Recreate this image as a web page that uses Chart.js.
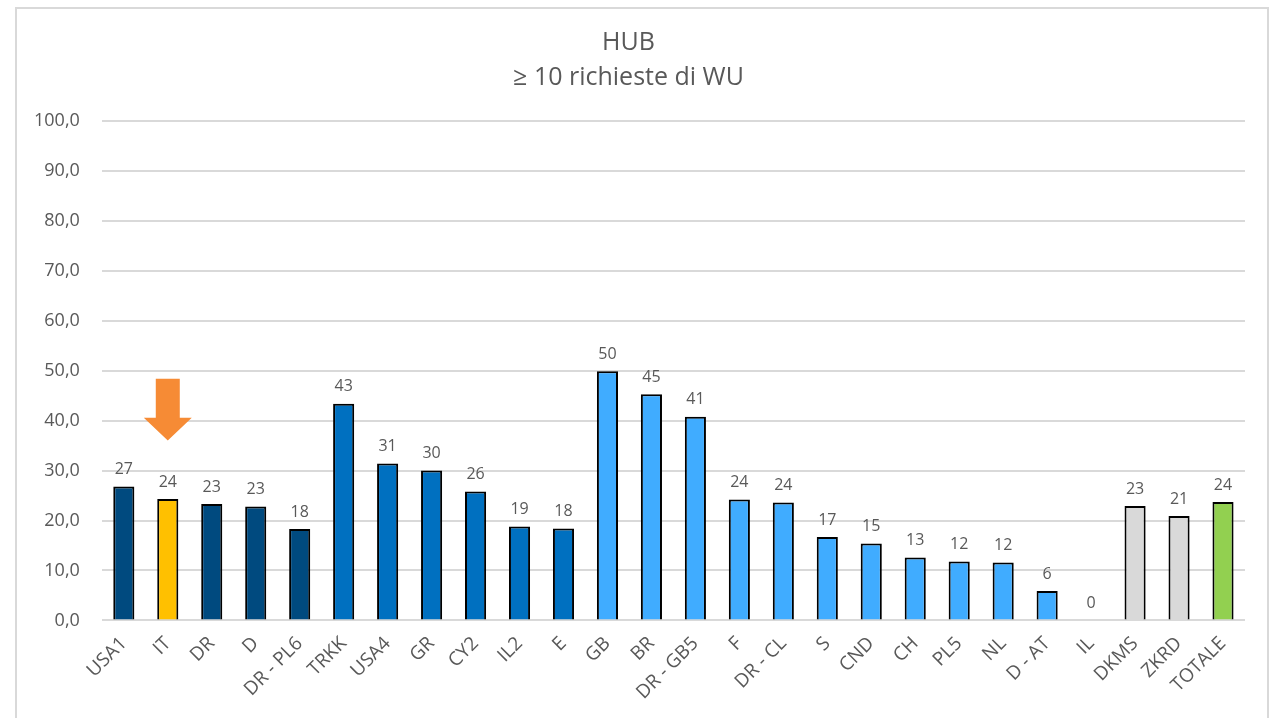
<!DOCTYPE html>
<html>
<head>
<meta charset="utf-8">
<script src="https://cdn.jsdelivr.net/npm/chart.js@4"></script>
<style>
  body { margin: 0; background: #ffffff; }
  #cornice {
    position: absolute; left: 15px; top: 7px;
    width: 1254px; height: 730px;
    border: 2px solid #d9d9d9; box-sizing: border-box;
  }
  #contenitore { position: absolute; left: 0; top: 0; width: 1273px; height: 718px; }
</style>
</head>
<body>
<div id="cornice"></div>
<div id="contenitore"><canvas id="grafico-hub"></canvas></div>
<script>
// dati
const categorie = ['USA1', 'IT', 'DR', 'D', 'DR - PL6', 'TRKK', 'USA4', 'GR', 'CY2', 'IL2', 'E',
    'GB', 'BR', 'DR - GB5', 'F', 'DR - CL', 'S', 'CND', 'CH', 'PL5', 'NL', 'D - AT', 'IL',
    'DKMS', 'ZKRD', 'TOTALE'];
const valori = [26.8, 24.3, 23.3, 22.8, 18.3, 43.4, 31.4, 30.0, 25.8, 18.8, 18.4,
    49.9, 45.3, 40.8, 24.2, 23.6, 16.7, 15.4, 12.6, 11.8, 11.6, 5.9, 0,
    22.9, 20.9, 23.7];
const gruppi = ['A', 'IT', 'A', 'A', 'A', 'B', 'B', 'B', 'B', 'B', 'B',
    'C', 'C', 'C', 'C', 'C', 'C', 'C', 'C', 'C', 'C', 'C', 'C',
    'D', 'D', 'T'];
const tickY = [0, 10, 20, 30, 40, 50, 60, 70, 80, 90, 100];

const coloriGruppo = {
    A: '#004a7f',
    IT: '#ffc000',
    B: '#0070c0',
    C: '#40acff',
    D: '#d9d9d9',
    T: '#92d050'
};

const grigioTesto = '#595959';
const fontBase = "'Open Sans', 'Liberation Sans', sans-serif";

// etichette dei valori sopra le barre
const etichetteValori = {
    id: 'etichetteValori',
    afterDatasetsDraw(chart) {
        const ctx = chart.ctx;
        const meta = chart.getDatasetMeta(0);
        ctx.save();
        ctx.fillStyle = grigioTesto;
        ctx.font = '16px ' + fontBase;
        ctx.textAlign = 'center';
        ctx.textBaseline = 'bottom';
        meta.data.forEach((bar, i) => {
            ctx.fillText(Math.round(valori[i]).toString(), bar.x, bar.y - 9);
        });
        ctx.restore();
    }
};

// freccia arancione sopra IT
const frecciaIT = {
    id: 'frecciaIT',
    afterDatasetsDraw(chart) {
        const ctx = chart.ctx;
        const x = chart.scales.x.getPixelForValue(categorie.indexOf('IT'));
        const y = chart.scales.y;
        const yTop = y.getPixelForValue(48.4);
        const yBase = y.getPixelForValue(40.6);
        const yPunta = y.getPixelForValue(36.0);
        ctx.save();
        ctx.fillStyle = '#f68b35';
        ctx.beginPath();
        ctx.moveTo(x - 12, yTop);
        ctx.lineTo(x + 12, yTop);
        ctx.lineTo(x + 12, yBase);
        ctx.lineTo(x + 24, yBase);
        ctx.lineTo(x, yPunta);
        ctx.lineTo(x - 24, yBase);
        ctx.lineTo(x - 12, yBase);
        ctx.closePath();
        ctx.fill();
        ctx.restore();
    }
};

const ctx = document.getElementById('grafico-hub').getContext('2d');
const grafico = new Chart(ctx, {
    type: 'bar',
    data: {
        labels: categorie,
        datasets: [{
            label: 'HUB',
            data: valori,
            backgroundColor: gruppi.map(g => coloriGruppo[g]),
            borderColor: '#000000',
            borderWidth: 2,
            borderSkipped: 'bottom',
            barPercentage: 0.48,
            categoryPercentage: 1.0
        }]
    },
    options: {
        responsive: true,
        maintainAspectRatio: false,
        animation: false,
        layout: { padding: { left: 12, right: 28, top: 0, bottom: 10 } },
        plugins: {
            legend: { display: false },
            tooltip: { enabled: false },
            title: {
                display: true,
                text: ['HUB', '≥ 10 richieste di WU'],
                color: grigioTesto,
                font: { family: fontBase, size: 25, weight: 'normal', lineHeight: 1.38 },
                padding: { top: 26, bottom: 26 }
            }
        },
        scales: {
            x: {
                grid: { display: false },
                border: { display: false },
                ticks: {
                    color: grigioTesto,
                    font: { family: fontBase, size: 19 },
                    maxRotation: 45,
                    minRotation: 45,
                    autoSkip: false,
                    padding: 4
                }
            },
            y: {
                min: 0,
                max: 100,
                afterBuildTicks(scale) {
                    scale.ticks = tickY.map(v => ({ value: v }));
                },
                grid: { color: '#d9d9d9', lineWidth: 2, drawTicks: false },
                border: { display: false },
                ticks: {
                    color: grigioTesto,
                    font: { family: fontBase, size: 18 },
                    padding: 22,
                    callback: v => v.toFixed(1).replace('.', ',')
                }
            }
        }
    },
    plugins: [etichetteValori, frecciaIT]
});
</script>
</body>
</html>
